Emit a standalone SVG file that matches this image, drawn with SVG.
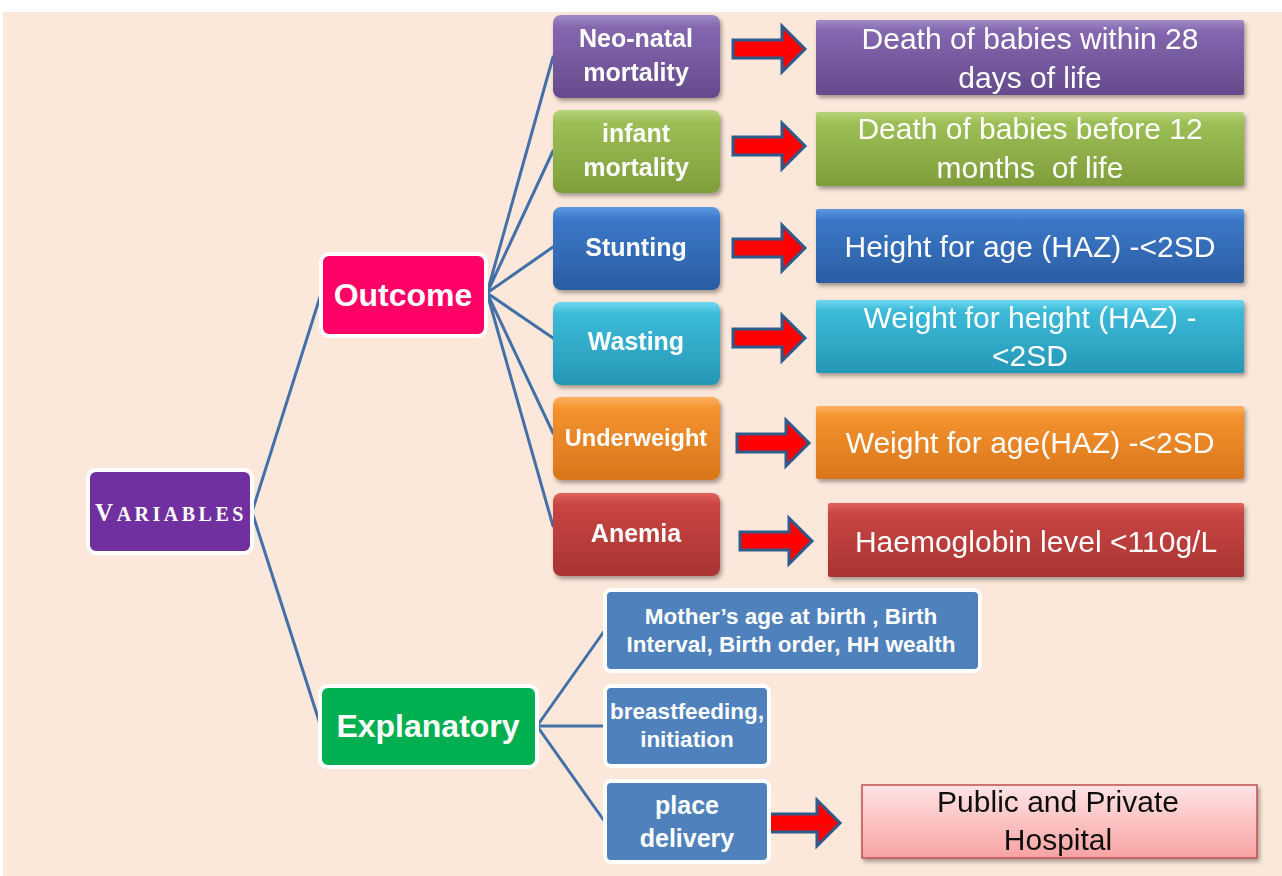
<svg xmlns="http://www.w3.org/2000/svg" width="1282" height="876" viewBox="0 0 1282 876">
<defs>
<style>
.lbl{font-family:"Liberation Sans",Arial,sans-serif;font-weight:bold;fill:#fff;text-anchor:middle}
.big{font-family:"Liberation Sans",Arial,sans-serif;font-weight:bold;fill:#fff;text-anchor:middle;font-size:32px}
.def{font-family:"Liberation Sans",Arial,sans-serif;fill:#fff;text-anchor:middle;font-size:30px}
.blk{font-family:"Liberation Sans",Arial,sans-serif;fill:#111;text-anchor:middle;font-size:30px}
.main{stroke:#fff;stroke-width:4}
.conn{stroke:#4470A8;stroke-width:3;fill:none;stroke-linecap:round}
.arrow{fill:#FF0000;stroke:#2F5A8C;stroke-width:3;stroke-linejoin:miter}
.sub{fill:#4F81BD;stroke:#fff;stroke-width:4}
</style>
<filter id="sh" x="-10%" y="-10%" width="125%" height="135%"><feDropShadow dx="2" dy="3" stdDeviation="2" flood-color="#000" flood-opacity="0.35"/></filter>
<linearGradient id="gPurple" x1="0" y1="0" x2="0" y2="1"><stop offset="0" stop-color="#A08BC6"/><stop offset="0.15" stop-color="#8467AE"/><stop offset="1" stop-color="#654A8C"/></linearGradient>
<linearGradient id="gGreen" x1="0" y1="0" x2="0" y2="1"><stop offset="0" stop-color="#B6D47A"/><stop offset="0.15" stop-color="#9CBE55"/><stop offset="1" stop-color="#7E9E3C"/></linearGradient>
<linearGradient id="gBlue" x1="0" y1="0" x2="0" y2="1"><stop offset="0" stop-color="#5C98E0"/><stop offset="0.15" stop-color="#3B78C8"/><stop offset="1" stop-color="#2B5DA2"/></linearGradient>
<linearGradient id="gCyan" x1="0" y1="0" x2="0" y2="1"><stop offset="0" stop-color="#70D8F0"/><stop offset="0.15" stop-color="#3CBAD8"/><stop offset="1" stop-color="#2597B6"/></linearGradient>
<linearGradient id="gOrange" x1="0" y1="0" x2="0" y2="1"><stop offset="0" stop-color="#FCB060"/><stop offset="0.15" stop-color="#F4922E"/><stop offset="1" stop-color="#D9751C"/></linearGradient>
<linearGradient id="gRed" x1="0" y1="0" x2="0" y2="1"><stop offset="0" stop-color="#E0625E"/><stop offset="0.15" stop-color="#C84542"/><stop offset="1" stop-color="#A83432"/></linearGradient>
<linearGradient id="gPink" x1="0" y1="0" x2="0" y2="1"><stop offset="0" stop-color="#FFE4E4"/><stop offset="1" stop-color="#F7A2A2"/></linearGradient>
<path id="arr" d="M0,-9 H49 V-23 L72,0 L49,23 V9 H0 Z"/>
</defs>

<rect x="0" y="0" width="1282" height="876" fill="#fff"/>
<rect x="3" y="12" width="1279" height="864" fill="#FBE8DA"/>

<g id="connectors">
<path class="conn" d="M252,512 L320,297 M252,512 L320,724"/>
<path class="conn" d="M487,293 L553,57 M487,293 L553,151 M487,293 L553,247 M487,293 L553,338 M487,293 L553,433 M487,293 L553,526"/>
<path class="conn" d="M537,726 L605,630 M537,726 L605,726 M537,726 L605,822"/>
<use href="#arr" class="arrow" transform="translate(733,49)"/>
<use href="#arr" class="arrow" transform="translate(733,146)"/>
<use href="#arr" class="arrow" transform="translate(733,248)"/>
<use href="#arr" class="arrow" transform="translate(733,338)"/>
<use href="#arr" class="arrow" transform="translate(737,443)"/>
<use href="#arr" class="arrow" transform="translate(740,541)"/>
<use href="#arr" class="arrow" transform="translate(768,823)"/>
</g>

<g id="variables">
<rect class="main" x="88" y="470" width="164" height="83" rx="8" fill="#7030A0"/>
<text x="171" y="521" style="font-family:'Liberation Serif',serif;font-weight:bold;fill:#fff;text-anchor:middle;letter-spacing:3.5px"><tspan font-size="25">V</tspan><tspan font-size="20">ARIABLES</tspan></text>
</g>

<g id="outcome">
<rect class="main" x="321" y="254" width="165" height="82" rx="8" fill="#FE0066"/>
<text class="big" x="403" y="306">Outcome</text>
</g>

<g id="explanatory">
<rect class="main" x="320" y="686" width="217" height="81" rx="8" fill="#00B050"/>
<text class="big" x="428" y="737">Explanatory</text>
</g>

<g id="neonatal" filter="url(#sh)">
<rect x="553" y="15" width="167" height="83" rx="8" fill="url(#gPurple)"/>
<text class="lbl" font-size="25" x="636" y="47">Neo-natal</text>
<text class="lbl" font-size="25" x="636" y="81">mortality</text>
</g>
<g id="infant" filter="url(#sh)">
<rect x="553" y="110" width="167" height="83" rx="8" fill="url(#gGreen)"/>
<text class="lbl" font-size="25" x="636" y="142">infant</text>
<text class="lbl" font-size="25" x="636" y="176">mortality</text>
</g>
<g id="stunting" filter="url(#sh)">
<rect x="553" y="207" width="167" height="83" rx="8" fill="url(#gBlue)"/>
<text class="lbl" font-size="25" x="636" y="256">Stunting</text>
</g>
<g id="wasting" filter="url(#sh)">
<rect x="553" y="302" width="167" height="83" rx="8" fill="url(#gCyan)"/>
<text class="lbl" font-size="25" x="636" y="350">Wasting</text>
</g>
<g id="underweight" filter="url(#sh)">
<rect x="553" y="397" width="167" height="83" rx="8" fill="url(#gOrange)"/>
<text class="lbl" font-size="23.5" x="636" y="446">Underweight</text>
</g>
<g id="anemia" filter="url(#sh)">
<rect x="553" y="493" width="167" height="83" rx="8" fill="url(#gRed)"/>
<text class="lbl" font-size="25" x="636" y="542">Anemia</text>
</g>

<g id="def-neonatal" filter="url(#sh)">
<rect x="816" y="20" width="428" height="75" rx="2" fill="url(#gPurple)"/>
<text class="def" x="1030" y="49">Death of babies within 28</text>
<text class="def" x="1030" y="88">days of life</text>
</g>
<g id="def-infant" filter="url(#sh)">
<rect x="816" y="112" width="428" height="74" rx="2" fill="url(#gGreen)"/>
<text class="def" x="1030" y="139">Death of babies before 12</text>
<text class="def" x="1030" y="178" xml:space="preserve">months  of life</text>
</g>
<g id="def-stunting" filter="url(#sh)">
<rect x="816" y="209" width="428" height="74" rx="2" fill="url(#gBlue)"/>
<text class="def" x="1030" y="257">Height for age (HAZ) -&lt;2SD</text>
</g>
<g id="def-wasting" filter="url(#sh)">
<rect x="816" y="300" width="428" height="73" rx="2" fill="url(#gCyan)"/>
<text class="def" x="1030" y="328">Weight for height (HAZ) -</text>
<text class="def" x="1030" y="366">&lt;2SD</text>
</g>
<g id="def-underweight" filter="url(#sh)">
<rect x="816" y="406" width="428" height="73" rx="2" fill="url(#gOrange)"/>
<text class="def" x="1030" y="453">Weight for age(HAZ) -&lt;2SD</text>
</g>
<g id="def-anemia" filter="url(#sh)">
<rect x="828" y="503" width="416" height="74" rx="2" fill="url(#gRed)"/>
<text class="def" x="1036" y="552">Haemoglobin level &lt;110g/L</text>
</g>

<g id="mother">
<rect class="sub" x="605" y="590" width="375" height="81" rx="6"/>
<text class="lbl" font-size="22.5" x="791" y="624">Mother’s age at birth , Birth</text>
<text class="lbl" font-size="22.5" x="791" y="652">Interval, Birth order, HH wealth</text>
</g>
<g id="breastfeeding">
<rect class="sub" x="605" y="686" width="164" height="80" rx="6"/>
<text class="lbl" font-size="22.5" x="687" y="719">breastfeeding,</text>
<text class="lbl" font-size="22.5" x="687" y="747">initiation</text>
</g>
<g id="place">
<rect class="sub" x="605" y="781" width="164" height="81" rx="6"/>
<text class="lbl" font-size="25" x="687" y="814">place</text>
<text class="lbl" font-size="25" x="687" y="847">delivery</text>
</g>
<g id="hospital" filter="url(#sh)">
<rect x="862" y="785" width="395" height="73" fill="url(#gPink)" stroke="#C0504D" stroke-width="1.5"/>
<text class="blk" x="1058" y="812">Public and Private</text>
<text class="blk" x="1058" y="850">Hospital</text>
</g>
</svg>
